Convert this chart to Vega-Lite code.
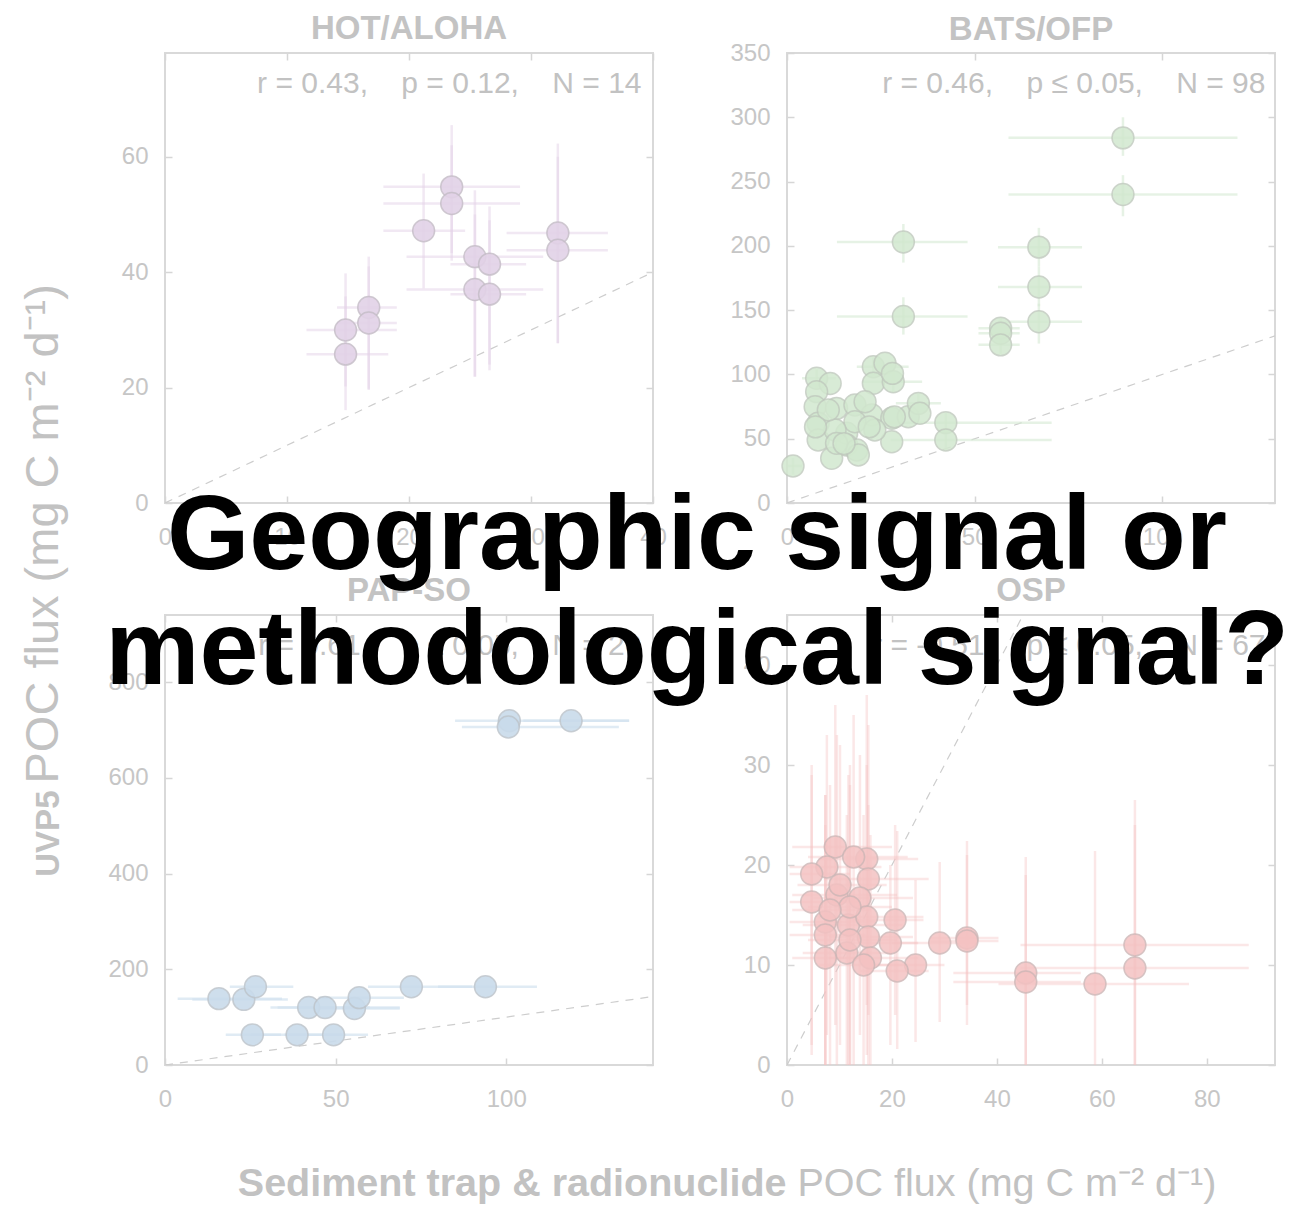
{
  "$schema": "https://vega.github.io/schema/vega-lite/v6.json",
  "background": "white",
  "padding": {"left": 17, "top": 12, "right": 5, "bottom": 5},
  "title": {
    "text": ["Geographic signal or", "methodological signal?"],
    "fontSize": 106, "fontWeight": "bold", "color": "#000000", "font": "Liberation Sans",
    "anchor": "middle", "frame": "group", "baseline": "alphabetic", "lineHeight": 115,
    "offset": -778, "dx": 532
  },
  "config": {
    "font": "Liberation Sans",
    "view": {"stroke": "#d9d9d9", "strokeWidth": 2},
    "title": {"fontSize": 33, "fontWeight": "bold", "color": "#c3c3c3", "offset": 6, "frame": "group", "baseline": "alphabetic", "anchor": "middle"},
    "axis": {
      "domain": false, "grid": false, "ticks": true, "tickSize": -7, "tickColor": "#d6d6d6", "tickWidth": 1.5,
      "labelFont": "Liberation Sans", "labelFontSize": 24, "labelColor": "#c6c6c6", "labelFlush": false, "labelOverlap": false,
      "titleFont": "Liberation Sans", "titleColor": "#c2c2c2", "titleLimit": 2000
    },
    "axisBottom": {"labelPadding": 29},
    "axisLeft": {"labelPadding": 24}
  },
  "datasets": {
    "hot": [
      {"x": 14.8, "y": 30.0, "xlo": 11.6, "xhi": 19.0, "ylo": 20.2, "yhi": 39.8},
      {"x": 14.8, "y": 25.8, "xlo": 11.6, "xhi": 18.3, "ylo": 16.1, "yhi": 35.8},
      {"x": 16.7, "y": 33.9, "xlo": 14.1, "xhi": 19.0, "ylo": 19.6, "yhi": 42.7},
      {"x": 16.7, "y": 31.2, "xlo": 14.1, "xhi": 19.0, "ylo": 19.8, "yhi": 41.0},
      {"x": 21.2, "y": 47.2, "xlo": 17.9, "xhi": 24.6, "ylo": 37.2, "yhi": 57.1},
      {"x": 23.5, "y": 54.8, "xlo": 17.9, "xhi": 29.1, "ylo": 43.3, "yhi": 65.5},
      {"x": 23.5, "y": 51.9, "xlo": 17.9, "xhi": 29.1, "ylo": 42.0, "yhi": 62.0},
      {"x": 25.4, "y": 42.7, "xlo": 19.8, "xhi": 31.0, "ylo": 21.9, "yhi": 54.2},
      {"x": 25.4, "y": 37.0, "xlo": 19.8, "xhi": 31.0, "ylo": 21.9, "yhi": 50.0},
      {"x": 26.6, "y": 41.4, "xlo": 23.4, "xhi": 29.6, "ylo": 23.0, "yhi": 51.4},
      {"x": 26.6, "y": 36.2, "xlo": 23.4, "xhi": 29.6, "ylo": 24.0, "yhi": 49.0},
      {"x": 32.2, "y": 46.8, "xlo": 28.0, "xhi": 36.3, "ylo": 27.7, "yhi": 62.3},
      {"x": 32.2, "y": 43.8, "xlo": 28.0, "xhi": 36.3, "ylo": 27.7, "yhi": 60.0}
    ],
    "bats": [
      {"x": 89.5, "y": 284, "xlo": 59, "xhi": 120, "ylo": 270, "yhi": 300},
      {"x": 89.5, "y": 240, "xlo": 59, "xhi": 120, "ylo": 223, "yhi": 255},
      {"x": 31.0, "y": 203, "xlo": 13.3, "xhi": 48.1, "ylo": 187, "yhi": 217},
      {"x": 31.0, "y": 145, "xlo": 13.3, "xhi": 48.1, "ylo": 131, "yhi": 160},
      {"x": 67.1, "y": 199, "xlo": 56.2, "xhi": 78.6, "ylo": 184, "yhi": 214},
      {"x": 67.1, "y": 168, "xlo": 56.2, "xhi": 78.6, "ylo": 153, "yhi": 184},
      {"x": 67.1, "y": 141, "xlo": 56.2, "xhi": 78.6, "ylo": 124, "yhi": 155},
      {"x": 56.9, "y": 136, "xlo": 51, "xhi": 62, "ylo": 128, "yhi": 144},
      {"x": 56.9, "y": 132, "xlo": 51, "xhi": 62, "ylo": 124, "yhi": 140},
      {"x": 56.9, "y": 123, "xlo": 51, "xhi": 62, "ylo": 116, "yhi": 130},
      {"x": 42.3, "y": 62.5, "xlo": 27.6, "xhi": 70.5, "ylo": 55, "yhi": 70},
      {"x": 42.3, "y": 49, "xlo": 27.6, "xhi": 70.5, "ylo": 41, "yhi": 57},
      {"x": 1.6, "y": 28.8, "xlo": 0.2, "xhi": 4, "ylo": 22, "yhi": 35},
      {"x": 7.9, "y": 97, "xlo": 4, "xhi": 13, "ylo": 90, "yhi": 104},
      {"x": 11.5, "y": 93},
      {"x": 7.9, "y": 86.6},
      {"x": 7.5, "y": 74.9},
      {"x": 8.3, "y": 62},
      {"x": 8.3, "y": 49},
      {"x": 13.2, "y": 73.6},
      {"x": 18.1, "y": 76.2},
      {"x": 23, "y": 106, "xlo": 18.6, "xhi": 32.4, "ylo": 99, "yhi": 113},
      {"x": 26.1, "y": 108.7},
      {"x": 23, "y": 93.1},
      {"x": 28.3, "y": 94.3, "xlo": 20, "xhi": 36, "ylo": 86, "yhi": 102},
      {"x": 22.6, "y": 68.4},
      {"x": 27.9, "y": 65.9},
      {"x": 32.3, "y": 67.1},
      {"x": 35, "y": 77.5, "xlo": 29, "xhi": 41, "ylo": 70, "yhi": 85},
      {"x": 35.4, "y": 69.8},
      {"x": 27.9, "y": 47.7},
      {"x": 15.9, "y": 54.2},
      {"x": 15.9, "y": 45.1},
      {"x": 11.9, "y": 34.8},
      {"x": 18.6, "y": 41.2},
      {"x": 18.1, "y": 63.2},
      {"x": 12.8, "y": 56.8},
      {"x": 23.4, "y": 56.8},
      {"x": 19, "y": 37.3},
      {"x": 13.2, "y": 46.4},
      {"x": 20.8, "y": 78.8},
      {"x": 11, "y": 72.3},
      {"x": 28.1, "y": 100.8},
      {"x": 28.6, "y": 67},
      {"x": 21.9, "y": 59.2},
      {"x": 7.6, "y": 59.2},
      {"x": 15.2, "y": 46.2}
    ],
    "pap": [
      {"x": 15.8, "y": 138.6, "xlo": 3.7, "xhi": 34.3},
      {"x": 23.1, "y": 137, "xlo": 8, "xhi": 36},
      {"x": 26.5, "y": 163.6, "xlo": 19, "xhi": 37.6},
      {"x": 25.6, "y": 63, "xlo": 17.8, "xhi": 34},
      {"x": 38.7, "y": 63, "xlo": 25, "xhi": 52},
      {"x": 49.4, "y": 63, "xlo": 35, "xhi": 59.5},
      {"x": 42.1, "y": 120, "xlo": 30.9, "xhi": 68.8},
      {"x": 46.9, "y": 120, "xlo": 33, "xhi": 60},
      {"x": 55.5, "y": 118, "xlo": 45, "xhi": 68.8},
      {"x": 56.9, "y": 140.7, "xlo": 45, "xhi": 70},
      {"x": 72.2, "y": 163.6, "xlo": 59.5, "xhi": 90},
      {"x": 93.9, "y": 163.6, "xlo": 80, "xhi": 109},
      {"x": 100.9, "y": 719, "xlo": 85, "xhi": 136},
      {"x": 100.6, "y": 706, "xlo": 87, "xhi": 133},
      {"x": 119, "y": 719, "xlo": 105, "xhi": 136}
    ],
    "osp": [
      {"x": 66.3, "y": 12.0, "xlo": 44.5, "xhi": 88, "ylo": 0, "yhi": 26.5},
      {"x": 66.3, "y": 9.7, "xlo": 44.5, "xhi": 88, "ylo": 0, "yhi": 24},
      {"x": 58.7, "y": 8.1, "xlo": 40.3, "xhi": 76.6, "ylo": 0, "yhi": 21.4},
      {"x": 45.5, "y": 9.2, "xlo": 31.7, "xhi": 56, "ylo": 0, "yhi": 20.8},
      {"x": 45.5, "y": 8.3, "xlo": 31.7, "xhi": 56, "ylo": 0, "yhi": 19},
      {"x": 34.3, "y": 12.7, "xlo": 27.3, "xhi": 40.3, "ylo": 4, "yhi": 22.4},
      {"x": 34.3, "y": 12.4, "xlo": 27.3, "xhi": 40.3, "ylo": 6, "yhi": 21},
      {"x": 29.1, "y": 12.2, "xlo": 20, "xhi": 36, "ylo": 4.3, "yhi": 20.3},
      {"x": 24.5, "y": 10.0, "xlo": 17, "xhi": 30, "ylo": 2.3, "yhi": 18.5},
      {"x": 21.0, "y": 9.4, "xlo": 14, "xhi": 27, "ylo": 1.6, "yhi": 23.4},
      {"x": 20.6, "y": 14.5, "xlo": 12, "xhi": 26, "ylo": 5, "yhi": 24},
      {"x": 19.7, "y": 12.2, "xlo": 11, "xhi": 25, "ylo": 2, "yhi": 20},
      {"x": 9.2, "y": 21.8, "xlo": 1, "xhi": 20, "ylo": 4, "yhi": 36},
      {"x": 7.6, "y": 19.8, "xlo": 0.5, "xhi": 18, "ylo": 3, "yhi": 33},
      {"x": 4.7, "y": 19.1, "xlo": 0.5, "xhi": 12, "ylo": 2, "yhi": 30},
      {"x": 15.2, "y": 20.6, "xlo": 6, "xhi": 25, "ylo": 6, "yhi": 37},
      {"x": 15.5, "y": 18.6, "xlo": 7, "xhi": 27, "ylo": 5, "yhi": 34},
      {"x": 12.7, "y": 20.8, "xlo": 4, "xhi": 23, "ylo": 0, "yhi": 35},
      {"x": 4.7, "y": 16.3, "xlo": 0.5, "xhi": 14, "ylo": 1, "yhi": 29},
      {"x": 9.5, "y": 17.0, "xlo": 1, "xhi": 21, "ylo": 0, "yhi": 33},
      {"x": 13.9, "y": 16.7, "xlo": 5, "xhi": 24, "ylo": 3, "yhi": 31},
      {"x": 7.3, "y": 14.3, "xlo": 0.5, "xhi": 17, "ylo": 0, "yhi": 27},
      {"x": 11.7, "y": 14.0, "xlo": 3, "xhi": 22, "ylo": 0, "yhi": 29},
      {"x": 15.2, "y": 14.8, "xlo": 6, "xhi": 26, "ylo": 1, "yhi": 30},
      {"x": 15.5, "y": 12.8, "xlo": 8, "xhi": 24, "ylo": 0, "yhi": 26},
      {"x": 11.4, "y": 11.2, "xlo": 3, "xhi": 20, "ylo": 0, "yhi": 25},
      {"x": 7.3, "y": 10.7, "xlo": 1, "xhi": 15, "ylo": 0, "yhi": 24},
      {"x": 15.9, "y": 10.7, "xlo": 8, "xhi": 25, "ylo": 0, "yhi": 23},
      {"x": 14.6, "y": 10.0, "xlo": 6, "xhi": 22, "ylo": 0, "yhi": 25},
      {"x": 10.1, "y": 18.0, "xlo": 2, "xhi": 19, "ylo": 2, "yhi": 32},
      {"x": 12.0, "y": 15.8, "xlo": 4, "xhi": 20, "ylo": 0, "yhi": 30},
      {"x": 8.2, "y": 15.5, "xlo": 1, "xhi": 16, "ylo": 0, "yhi": 28},
      {"x": 7.3, "y": 13.0, "xlo": 0.5, "xhi": 15, "ylo": 0, "yhi": 27},
      {"x": 12.0, "y": 12.5, "xlo": 4, "xhi": 21, "ylo": 0, "yhi": 28}
    ]
  },
  "columns": 2,
  "spacing": {"row": 112, "column": 134},
  "bounds": "flush",
  "concat": [
    {
      "width": 488, "height": 450,
      "title": {"text": "HOT/ALOHA"},
      "resolve": {"axis": {"x": "independent", "y": "independent"}},
      "layer": [
        {
          "data": {"values": [{"x": 0, "y": 0, "x2": 40, "y2": 40}]},
          "mark": {"type": "rule", "strokeDash": [8, 7], "color": "#cdcdcd", "strokeWidth": 1.2, "clip": true},
          "encoding": {
            "x": {"field": "x", "type": "quantitative", "scale": {"domain": [0, 40], "nice": false},
                  "axis": {"orient": "top", "values": [0, 10, 20, 30, 40], "labels": false, "title": "r = 0.43,\u00a0\u00a0\u00a0 p = 0.12,\u00a0\u00a0\u00a0 N = 14", "titleFontSize": 30, "titleFontWeight": "normal", "titleAlign": "right", "titleBaseline": "alphabetic", "titleAngle": 0, "titleX": 476, "titleY": 39}},
            "y": {"field": "y", "type": "quantitative", "scale": {"domain": [0, 78], "nice": false},
                  "axis": {"orient": "right", "values": [0, 20, 40, 60], "labels": false, "title": null}},
            "x2": {"field": "x2"}, "y2": {"field": "y2"}
          }
        },
        {
          "data": {"name": "hot"},
          "mark": {"type": "rule", "color": "#e3d1e8", "strokeWidth": 2.5, "opacity": 0.5, "clip": true},
          "encoding": {
            "x": {"field": "xlo", "type": "quantitative", "scale": {"domain": [0, 40], "nice": false}, "axis": null},
            "x2": {"field": "xhi"},
            "y": {"field": "y", "type": "quantitative", "scale": {"domain": [0, 78], "nice": false}, "axis": null}
          }
        },
        {
          "data": {"name": "hot"},
          "mark": {"type": "rule", "color": "#e3d1e8", "strokeWidth": 2.5, "opacity": 0.5, "clip": true},
          "encoding": {
            "x": {"field": "x", "type": "quantitative", "scale": {"domain": [0, 40], "nice": false}, "axis": null},
            "y": {"field": "ylo", "type": "quantitative", "scale": {"domain": [0, 78], "nice": false}, "axis": null},
            "y2": {"field": "yhi"}
          }
        },
        {
          "data": {"name": "hot"},
          "mark": {"type": "point", "shape": "circle", "filled": true, "size": 480, "color": "#e2d2e7", "opacity": 0.9, "stroke": "#c4bcc6", "strokeWidth": 1.5, "strokeOpacity": 0.9},
          "encoding": {
            "x": {"field": "x", "type": "quantitative", "scale": {"domain": [0, 40], "nice": false},
                  "axis": {"values": [0, 10, 20, 30, 40], "title": null}},
            "y": {"field": "y", "type": "quantitative", "scale": {"domain": [0, 78], "nice": false},
                  "axis": {"values": [0, 20, 40, 60], "title": "POC flux (mg C m⁻² d⁻¹)", "titleFontSize": 47, "titleFontWeight": "normal", "titleAngle": 270, "titleAlign": "left", "titleBaseline": "alphabetic", "titleX": -108, "titleY": 730}}
          }
        }
      ]
    },
    {
      "width": 488, "height": 450,
      "title": {"text": "BATS/OFP", "offset": -6},
      "resolve": {"axis": {"x": "independent", "y": "independent"}},
      "layer": [
        {
          "data": {"values": [{"x": 0, "y": 0, "x2": 130, "y2": 130}]},
          "mark": {"type": "rule", "strokeDash": [8, 7], "color": "#cdcdcd", "strokeWidth": 1.2, "clip": true},
          "encoding": {
            "x": {"field": "x", "type": "quantitative", "scale": {"domain": [0, 130], "nice": false},
                  "axis": {"orient": "top", "values": [0, 50, 100], "labels": false, "title": "r = 0.46,\u00a0\u00a0\u00a0 p ≤ 0.05,\u00a0\u00a0\u00a0 N = 98", "titleFontSize": 30, "titleFontWeight": "normal", "titleAlign": "right", "titleBaseline": "alphabetic", "titleAngle": 0, "titleX": 478, "titleY": 39}},
            "y": {"field": "y", "type": "quantitative", "scale": {"domain": [0, 350], "nice": false},
                  "axis": {"orient": "right", "values": [0, 50, 100, 150, 200, 250, 300, 350], "labels": false, "title": null}},
            "x2": {"field": "x2"}, "y2": {"field": "y2"}
          }
        },
        {
          "data": {"name": "bats"},
          "mark": {"type": "rule", "color": "#d6ead3", "strokeWidth": 2.5, "opacity": 0.6, "clip": true},
          "encoding": {
            "x": {"field": "xlo", "type": "quantitative", "scale": {"domain": [0, 130], "nice": false}, "axis": null},
            "x2": {"field": "xhi"},
            "y": {"field": "y", "type": "quantitative", "scale": {"domain": [0, 350], "nice": false}, "axis": null}
          }
        },
        {
          "data": {"name": "bats"},
          "mark": {"type": "rule", "color": "#d6ead3", "strokeWidth": 2.5, "opacity": 0.6, "clip": true},
          "encoding": {
            "x": {"field": "x", "type": "quantitative", "scale": {"domain": [0, 130], "nice": false}, "axis": null},
            "y": {"field": "ylo", "type": "quantitative", "scale": {"domain": [0, 350], "nice": false}, "axis": null},
            "y2": {"field": "yhi"}
          }
        },
        {
          "data": {"name": "bats"},
          "mark": {"type": "point", "shape": "circle", "filled": true, "size": 480, "color": "#d2e8cf", "opacity": 0.85, "stroke": "#bfc8bd", "strokeWidth": 1.5, "strokeOpacity": 0.9},
          "encoding": {
            "x": {"field": "x", "type": "quantitative", "scale": {"domain": [0, 130], "nice": false},
                  "axis": {"values": [0, 50, 100], "title": null}},
            "y": {"field": "y", "type": "quantitative", "scale": {"domain": [0, 350], "nice": false},
                  "axis": {"values": [0, 50, 100, 150, 200, 250, 300, 350], "title": null}}
          }
        }
      ]
    },
    {
      "width": 488, "height": 450,
      "title": {"text": "PAP-SO"},
      "resolve": {"axis": {"x": "independent", "y": "independent"}},
      "layer": [
        {
          "data": {"values": [{"x": 0, "y": 0, "x2": 143, "y2": 143}]},
          "mark": {"type": "rule", "strokeDash": [8, 7], "color": "#cdcdcd", "strokeWidth": 1.2, "clip": true},
          "encoding": {
            "x": {"field": "x", "type": "quantitative", "scale": {"domain": [0, 143], "nice": false},
                  "axis": {"orient": "top", "values": [0, 50, 100], "labels": false, "title": "r = 0.61,\u00a0\u00a0\u00a0 p ≤ 0.05,\u00a0\u00a0\u00a0 N = 20", "titleFontSize": 30, "titleFontWeight": "normal", "titleAlign": "right", "titleBaseline": "alphabetic", "titleAngle": 0, "titleX": 476, "titleY": 39}},
            "y": {"field": "y", "type": "quantitative", "scale": {"domain": [0, 940], "nice": false},
                  "axis": {"orient": "right", "values": [0, 200, 400, 600, 800], "labels": false, "title": null}},
            "x2": {"field": "x2"}, "y2": {"field": "y2"}
          }
        },
        {
          "data": {"name": "pap"},
          "mark": {"type": "rule", "color": "#d3e2ef", "strokeWidth": 2.5, "opacity": 0.7, "clip": true},
          "encoding": {
            "x": {"field": "xlo", "type": "quantitative", "scale": {"domain": [0, 143], "nice": false}, "axis": null},
            "x2": {"field": "xhi"},
            "y": {"field": "y", "type": "quantitative", "scale": {"domain": [0, 940], "nice": false}, "axis": null}
          }
        },
        {
          "data": {"name": "pap"},
          "mark": {"type": "point", "shape": "circle", "filled": true, "size": 480, "color": "#c9dbeb", "opacity": 0.9, "stroke": "#bcc3ca", "strokeWidth": 1.5, "strokeOpacity": 0.9},
          "encoding": {
            "x": {"field": "x", "type": "quantitative", "scale": {"domain": [0, 143], "nice": false},
                  "axis": {"values": [0, 50, 100], "title": "Sediment trap & radionuclide", "titleFontSize": 39.5, "titleFontWeight": "bold", "titleAngle": 0, "titleAlign": "right", "titleBaseline": "alphabetic", "titleX": 621, "titleY": 130}},
            "y": {"field": "y", "type": "quantitative", "scale": {"domain": [0, 940], "nice": false},
                  "axis": {"values": [0, 200, 400, 600, 800], "title": "UVP5", "titleFontSize": 33, "titleFontWeight": "bold", "titleAngle": 270, "titleAlign": "right", "titleBaseline": "alphabetic", "titleX": -107, "titleY": 175}}
          }
        }
      ]
    },
    {
      "width": 488, "height": 450,
      "title": {"text": "OSP"},
      "resolve": {"axis": {"x": "independent", "y": "independent"}},
      "layer": [
        {
          "data": {"values": [{"x": 0, "y": 0, "x2": 45, "y2": 45}]},
          "mark": {"type": "rule", "strokeDash": [8, 7], "color": "#cdcdcd", "strokeWidth": 1.2, "clip": true},
          "encoding": {
            "x": {"field": "x", "type": "quantitative", "scale": {"domain": [0, 93], "nice": false},
                  "axis": {"orient": "top", "values": [0, 20, 40, 60, 80], "labels": false, "title": "r = -0.51,\u00a0\u00a0\u00a0 p ≤ 0.05,\u00a0\u00a0\u00a0 N = 67", "titleFontSize": 30, "titleFontWeight": "normal", "titleAlign": "right", "titleBaseline": "alphabetic", "titleAngle": 0, "titleX": 478, "titleY": 39}},
            "y": {"field": "y", "type": "quantitative", "scale": {"domain": [0, 45], "nice": false},
                  "axis": {"orient": "right", "values": [0, 10, 20, 30, 40], "labels": false, "title": null}},
            "x2": {"field": "x2"}, "y2": {"field": "y2"}
          }
        },
        {
          "data": {"name": "osp"},
          "mark": {"type": "rule", "color": "#f4c4c4", "strokeWidth": 2.5, "opacity": 0.4, "clip": true},
          "encoding": {
            "x": {"field": "xlo", "type": "quantitative", "scale": {"domain": [0, 93], "nice": false}, "axis": null},
            "x2": {"field": "xhi"},
            "y": {"field": "y", "type": "quantitative", "scale": {"domain": [0, 45], "nice": false}, "axis": null}
          }
        },
        {
          "data": {"name": "osp"},
          "mark": {"type": "rule", "color": "#f4c4c4", "strokeWidth": 2.5, "opacity": 0.4, "clip": true},
          "encoding": {
            "x": {"field": "x", "type": "quantitative", "scale": {"domain": [0, 93], "nice": false}, "axis": null},
            "y": {"field": "ylo", "type": "quantitative", "scale": {"domain": [0, 45], "nice": false}, "axis": null},
            "y2": {"field": "yhi"}
          }
        },
        {
          "data": {"name": "osp"},
          "mark": {"type": "point", "shape": "circle", "filled": true, "size": 480, "color": "#f4c2c2", "opacity": 0.85, "stroke": "#cbb5b5", "strokeWidth": 1.5, "strokeOpacity": 0.9},
          "encoding": {
            "x": {"field": "x", "type": "quantitative", "scale": {"domain": [0, 93], "nice": false},
                  "axis": {"values": [0, 20, 40, 60, 80], "title": "POC flux (mg C m⁻² d⁻¹)", "titleFontSize": 39.5, "titleFontWeight": "normal", "titleAngle": 0, "titleAlign": "left", "titleBaseline": "alphabetic", "titleX": 10, "titleY": 130}},
            "y": {"field": "y", "type": "quantitative", "scale": {"domain": [0, 45], "nice": false},
                  "axis": {"values": [0, 10, 20, 30, 40], "title": null}}
          }
        }
      ]
    }
  ]
}
